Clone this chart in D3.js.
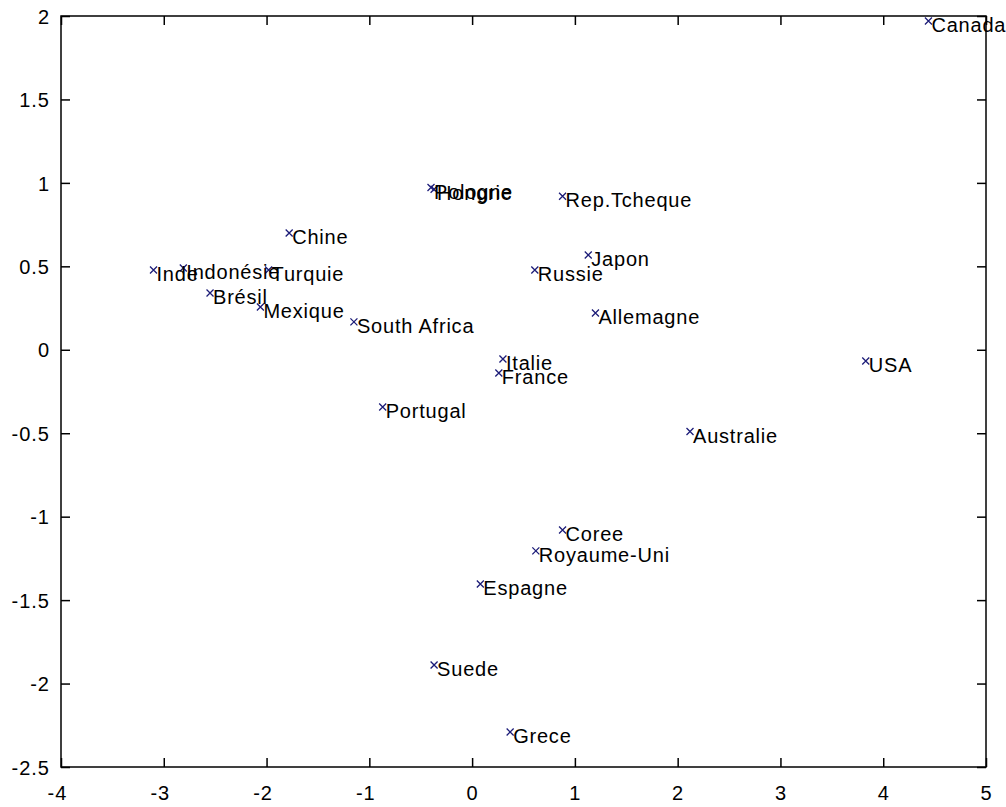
<!DOCTYPE html>
<html>
<head>
<meta charset="utf-8">
<script src="https://cdn.jsdelivr.net/npm/d3@7"></script>
<style>
  html, body { margin: 0; padding: 0; background: #fff; }
  svg { display: block; }
</style>
</head>
<body>
<svg id="chart" width="1006" height="807"></svg>
<script>
// ---- data ----
const countries = ["Canada","Pologne","Hongrie","Rep.Tcheque","Chine","Japon","Russie","Inde","Indonésie","Turquie","Brésil","Mexique","South Africa","Allemagne","USA","Italie","France","Portugal","Australie","Coree","Royaume-Uni","Espagne","Suede","Grece"];
const xValues = [4.44,-0.40,-0.37,0.88,-1.78,1.13,0.61,-3.10,-2.81,-1.98,-2.55,-2.06,-1.15,1.20,3.83,0.30,0.26,-0.87,2.12,0.88,0.62,0.08,-0.37,0.37];
const yValues = [1.97,0.972,0.962,0.92,0.70,0.568,0.478,0.478,0.49,0.478,0.34,0.256,0.167,0.22,-0.067,-0.055,-0.139,-0.343,-0.49,-1.08,-1.205,-1.403,-1.889,-2.29];
const xTicks = [-4,-3,-2,-1,0,1,2,3,4,5];
const xTickLabels = ["-4","-3","-2","-1","0","1","2","3","4","5"];
const yTicks = [2,1.5,1,0.5,0,-0.5,-1,-1.5,-2,-2.5];
const yTickLabels = ["2","1.5","1","0.5","0","-0.5","-1","-1.5","-2","-2.5"];

// ---- layout ----
const plotL = 61, plotR = 986, plotT = 16, plotB = 767;
const svg = d3.select("#chart");
const x = d3.scaleLinear().domain([-4, 5]).range([plotL, plotR]);
const y = d3.scaleLinear().domain([-2.5, 2]).range([plotB, plotT]);
const font = "'Liberation Sans', Arial, Helvetica, sans-serif";
const tickLen = 9;

// axes
const xAxis = d3.axisBottom(x).tickValues(xTicks)
  .tickFormat((d, i) => xTickLabels[i]).tickSizeInner(-tickLen).tickSizeOuter(0).tickPadding(19);
const xTop = d3.axisTop(x).tickValues(xTicks).tickFormat("").tickSizeInner(-tickLen).tickSizeOuter(0);
const yAxis = d3.axisLeft(y).tickValues(yTicks)
  .tickFormat((d, i) => yTickLabels[i]).tickSizeInner(-tickLen).tickSizeOuter(0).tickPadding(11);
const yRight = d3.axisRight(y).tickValues(yTicks).tickFormat("").tickSizeInner(-tickLen).tickSizeOuter(0);

function styleAxis(g) {
  g.select(".domain").remove();
  g.selectAll(".tick line").attr("stroke", "#000").attr("stroke-width", 1.5);
  g.selectAll(".tick text").attr("fill", "#000")
    .style("font-family", font).style("font-size", "20px").style("letter-spacing", "1px");
}

svg.append("g").attr("transform", `translate(0,${plotB})`).call(xAxis).call(styleAxis)
  .selectAll(".tick text").attr("dy", "0.71em")
  .attr("dx", (d, i) => xTickLabels[i].startsWith("-") ? -4 : 0);
svg.append("g").attr("transform", `translate(0,${plotT})`).call(xTop).call(styleAxis);
svg.append("g").attr("transform", `translate(${plotL},0)`).call(yAxis).call(styleAxis)
  .selectAll(".tick text").attr("dy", "0.36em");
svg.append("g").attr("transform", `translate(${plotR},0)`).call(yRight).call(styleAxis);

// points
const pts = svg.append("g");
const s = 3.5;
pts.selectAll("path.mk").data(countries).enter().append("path")
  .attr("class", "mk")
  .attr("d", (d, i) => {
    const px = x(xValues[i]), py = y(yValues[i]);
    return `M${px - s},${py - s}L${px + s},${py + s}M${px - s},${py + s}L${px + s},${py - s}`;
  })
  .attr("stroke", "#1c1c78").attr("stroke-width", 1.3).attr("fill", "none");

pts.selectAll("text.lbl").data(countries).enter().append("text")
  .attr("class", "lbl")
  .attr("x", (d, i) => x(xValues[i]) + 3)
  .attr("y", (d, i) => y(yValues[i]) + 11)
  .attr("fill", "#000")
  .style("font-family", font).style("font-size", "20px").style("letter-spacing", "0.8px")
  .text(d => d);

// frame on top
svg.append("rect").attr("x", plotL).attr("y", plotT)
  .attr("width", plotR - plotL).attr("height", plotB - plotT)
  .attr("fill", "none").attr("stroke", "#000").attr("stroke-width", 1.5);
</script>
</body>
</html>
